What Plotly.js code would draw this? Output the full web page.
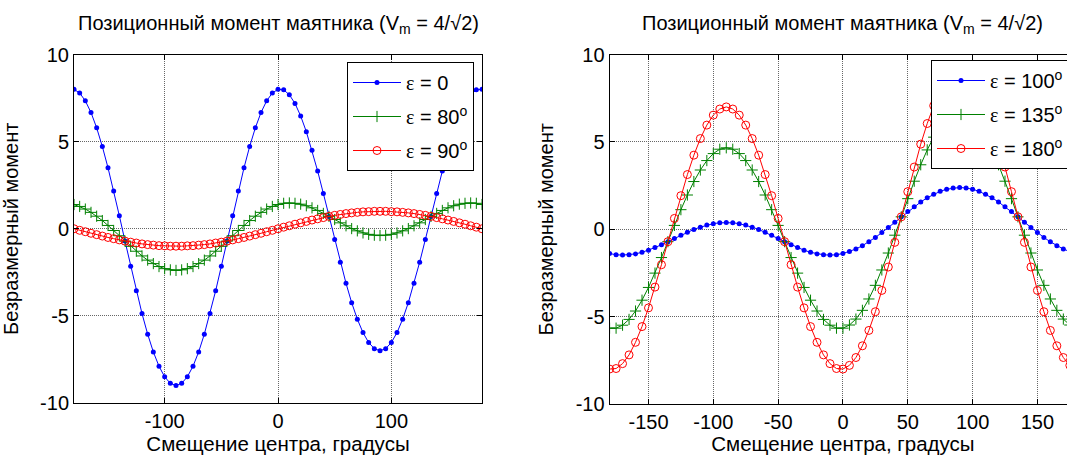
<!DOCTYPE html>
<html>
<head>
<meta charset="utf-8">
<script src="https://cdn.plot.ly/plotly-3.0.1.min.js"></script>
<style>
html,body{margin:0;padding:0;background:#fff;overflow:hidden;}
#chart{width:1080px;height:455px;}
</style>
</head>
<body>
<div id="chart"></div>
<script>
// Shift of the centre, degrees
const angles = [-180,-175,-170,-165,-160,-155,-150,-145,-140,-135,-130,-125,-120,-115,-110,-105,-100,-95,-90,-85,-80,-75,-70,-65,-60,-55,-50,-45,-40,-35,-30,-25,-20,-15,-10,-5,0,5,10,15,20,25,30,35,40,45,50,55,60,65,70,75,80,85,90,95,100,105,110,115,120,125,130,135,140,145,150,155,160,165,170,175,180];

// Left panel series
const eps0 = [8,7.79,7.34,6.67,5.79,4.72,3.5,2.16,0.75,-0.71,-2.15,-3.56,-4.87,-6.05,-7.07,-7.89,-8.5,-8.87,-9,-8.87,-8.5,-7.89,-7.07,-6.05,-4.87,-3.56,-2.15,-0.71,0.75,2.16,3.5,4.72,5.79,6.67,7.34,7.79,8,7.97,7.69,7.19,6.47,5.57,4.5,3.31,2.03,0.71,-0.62,-1.92,-3.13,-4.24,-5.19,-5.96,-6.53,-6.88,-7,-6.88,-6.53,-5.96,-5.19,-4.24,-3.13,-1.92,-0.62,0.71,2.03,3.31,4.5,5.57,6.47,7.19,7.69,7.97,8];
const eps80 = [1.39,1.28,1.13,0.94,0.72,0.47,0.19,-0.1,-0.4,-0.71,-1.01,-1.29,-1.56,-1.8,-2,-2.17,-2.29,-2.36,-2.39,-2.36,-2.29,-2.17,-2,-1.8,-1.56,-1.29,-1.01,-0.71,-0.4,-0.1,0.19,0.47,0.72,0.94,1.13,1.28,1.39,1.46,1.48,1.46,1.41,1.32,1.2,1.05,0.88,0.71,0.53,0.34,0.17,0.01,-0.12,-0.24,-0.32,-0.37,-0.39,-0.37,-0.32,-0.24,-0.12,0.01,0.17,0.34,0.53,0.71,0.88,1.05,1.2,1.32,1.41,1.46,1.48,1.46,1.39];
const eps90 = [0,-0.09,-0.17,-0.26,-0.34,-0.42,-0.5,-0.57,-0.64,-0.71,-0.77,-0.82,-0.87,-0.91,-0.94,-0.97,-0.98,-1,-1,-1,-0.98,-0.97,-0.94,-0.91,-0.87,-0.82,-0.77,-0.71,-0.64,-0.57,-0.5,-0.42,-0.34,-0.26,-0.17,-0.09,0,0.09,0.17,0.26,0.34,0.42,0.5,0.57,0.64,0.71,0.77,0.82,0.87,0.91,0.94,0.97,0.98,1,1,1,0.98,0.97,0.94,0.91,0.87,0.82,0.77,0.71,0.64,0.57,0.5,0.42,0.34,0.26,0.17,0.09,0];

// Right panel series
const eps100 = [-1.39,-1.46,-1.48,-1.46,-1.41,-1.32,-1.2,-1.05,-0.88,-0.71,-0.53,-0.34,-0.17,-0.01,0.12,0.24,0.32,0.37,0.39,0.37,0.32,0.24,0.12,-0.01,-0.17,-0.34,-0.53,-0.71,-0.88,-1.05,-1.2,-1.32,-1.41,-1.46,-1.48,-1.46,-1.39,-1.28,-1.13,-0.94,-0.72,-0.47,-0.19,0.1,0.4,0.71,1.01,1.29,1.56,1.8,2,2.17,2.29,2.36,2.39,2.36,2.29,2.17,2,1.8,1.56,1.29,1.01,0.71,0.4,0.1,-0.19,-0.47,-0.72,-0.94,-1.13,-1.28,-1.39];
const eps135 = [-5.66,-5.66,-5.49,-5.16,-4.68,-4.06,-3.33,-2.51,-1.62,-0.71,0.22,1.12,1.96,2.73,3.39,3.93,4.33,4.58,4.66,4.58,4.33,3.93,3.39,2.73,1.96,1.12,0.22,-0.71,-1.62,-2.51,-3.33,-4.06,-4.68,-5.16,-5.49,-5.66,-5.66,-5.48,-5.14,-4.64,-3.99,-3.21,-2.33,-1.36,-0.34,0.71,1.75,2.75,3.69,4.54,5.27,5.87,6.3,6.57,6.66,6.57,6.3,5.87,5.27,4.54,3.69,2.75,1.75,0.71,-0.34,-1.36,-2.33,-3.21,-3.99,-4.64,-5.14,-5.48,-5.66];
const eps180 = [-8,-7.97,-7.69,-7.19,-6.47,-5.57,-4.5,-3.31,-2.03,-0.71,0.62,1.92,3.13,4.24,5.19,5.96,6.53,6.88,7,6.88,6.53,5.96,5.19,4.24,3.13,1.92,0.62,-0.71,-2.03,-3.31,-4.5,-5.57,-6.47,-7.19,-7.69,-7.97,-8,-7.79,-7.34,-6.67,-5.79,-4.72,-3.5,-2.16,-0.75,0.71,2.15,3.56,4.87,6.05,7.07,7.89,8.5,8.87,9,8.87,8.5,7.89,7.07,6.05,4.87,3.56,2.15,0.71,-0.75,-2.16,-3.5,-4.72,-5.79,-6.67,-7.34,-7.79,-8];

// Tick labels
const xTickValsLeft = [-100,0,100];
const xTickTextLeft = ['-100','0','100'];
const xTickValsRight = [-150,-100,-50,0,50,100,150];
const xTickTextRight = ['-150','-100','-50','0','50','100','150'];
const yTickVals = [-10,-5,0,5,10];
const yTickText = ['-10','-5','0','5','10'];

// Texts
const panelTitle = 'Позиционный момент маятника (V<sub>m</sub> = 4/√2)';
const xTitle = 'Смещение центра, градусы';
const yTitle = 'Безразмерный момент';
const namesLeft = ['0', '80<sup>o</sup>', '90<sup>o</sup>'];
const namesRight = ['100<sup>o</sup>', '135<sup>o</sup>', '180<sup>o</sup>'];

const W = 1080, H = 455;
const FONT = 'Liberation Sans, Arial, sans-serif';
const BLUE = '#0000ff', GREEN = '#008000', RED = '#ff0000';
const eps = n => '<span style="font-family:Liberation Serif">ε</span> = ' + n;

function styleBlue(){ return {mode:'lines+markers', line:{color:BLUE,width:1}, marker:{symbol:'circle',size:5,color:BLUE}}; }
function styleGreen(){ return {mode:'lines+markers', line:{color:GREEN,width:1}, marker:{symbol:'cross-thin-open',size:8,color:GREEN,line:{color:GREEN,width:1}}}; }
function styleRed(){ return {mode:'lines+markers', line:{color:RED,width:1}, marker:{symbol:'circle-open',size:8,color:RED,line:{color:RED,width:1}}}; }

const traces = [
  Object.assign({x:angles, y:eps0, name:eps(namesLeft[0]), xaxis:'x', yaxis:'y', legend:'legend', legendgroup:'a'}, styleBlue()),
  Object.assign({x:angles, y:eps80, name:eps(namesLeft[1]), xaxis:'x', yaxis:'y', legend:'legend', legendgroup:'b'}, styleGreen()),
  Object.assign({x:angles, y:eps90, name:eps(namesLeft[2]), xaxis:'x', yaxis:'y', legend:'legend', legendgroup:'c'}, styleRed()),
  Object.assign({x:angles, y:eps100, name:eps(namesRight[0]), xaxis:'x2', yaxis:'y2', legend:'legend2', legendgroup:'d'}, styleBlue()),
  Object.assign({x:angles, y:eps135, name:eps(namesRight[1]), xaxis:'x2', yaxis:'y2', legend:'legend2', legendgroup:'e'}, styleGreen()),
  Object.assign({x:angles, y:eps180, name:eps(namesRight[2]), xaxis:'x2', yaxis:'y2', legend:'legend2', legendgroup:'f'}, styleRed())
];

const px = v => v / W;
const py = v => (H - v) / H;

function xAxis(dom, vals, text, anchor){
  return {domain:dom, anchor:anchor, range:[-180,180], tickmode:'array', tickvals:vals, ticktext:text,
    showgrid:true, gridcolor:'#666', griddash:'1px,1px', gridwidth:1, zeroline:false,
    showline:true, linecolor:'#000', linewidth:1, mirror:'ticks', ticks:'inside', ticklen:5, tickcolor:'#000',
    tickfont:{family:FONT,size:20,color:'#000'}, automargin:false,
    title:{text:xTitle, font:{family:FONT,size:20.5,color:'#000'}, standoff:8}};
}
function yAxis(dom, anchor){
  return {domain:dom, anchor:anchor, range:[-10,10], tickmode:'array', tickvals:yTickVals, ticktext:yTickText,
    showgrid:true, gridcolor:'#666', griddash:'1px,1px', gridwidth:1, zeroline:false,
    showline:true, linecolor:'#000', linewidth:1, mirror:'ticks', ticks:'inside', ticklen:5, tickcolor:'#000',
    tickfont:{family:FONT,size:20,color:'#000'}, automargin:false,
    title:{text:yTitle, font:{family:FONT,size:20,color:'#000'}, standoff:16}};
}

const legendStyle = (x, y) => ({x:x, y:y, xanchor:'right', yanchor:'top', xref:'paper', yref:'paper',
  bgcolor:'#fff', bordercolor:'#000', borderwidth:1, font:{family:FONT,size:20,color:'#000'},
  itemwidth:48, tracegroupgap:5});

const layout = {
  width:W, height:H, margin:{l:0,r:0,t:0,b:0}, paper_bgcolor:'#fff', plot_bgcolor:'#fff',
  font:{family:FONT, color:'#000'}, showlegend:true,
  xaxis: xAxis([px(74), px(482)], xTickValsLeft, xTickTextLeft, 'y'),
  yaxis: yAxis([py(403), py(54.5)], 'x'),
  xaxis2: xAxis([px(609.6), px(1076.3)], xTickValsRight, xTickTextRight, 'y2'),
  yaxis2: yAxis([py(404), py(54.5)], 'x2'),
  legend: legendStyle(px(474), py(62)),
  legend2: legendStyle(px(1069), py(60)),
  annotations: [
    {text:panelTitle, xref:'x domain', yref:'paper', x:0.5, y:py(24), xanchor:'center', yanchor:'middle', showarrow:false, font:{family:FONT,size:20,color:'#000'}},
    {text:panelTitle, xref:'x2 domain', yref:'paper', x:0.5, y:py(24), xanchor:'center', yanchor:'middle', showarrow:false, font:{family:FONT,size:20,color:'#000'}}
  ]
};

Plotly.newPlot('chart', traces, layout, {displayModeBar:false, staticPlot:true});
</script>
</body>
</html>
